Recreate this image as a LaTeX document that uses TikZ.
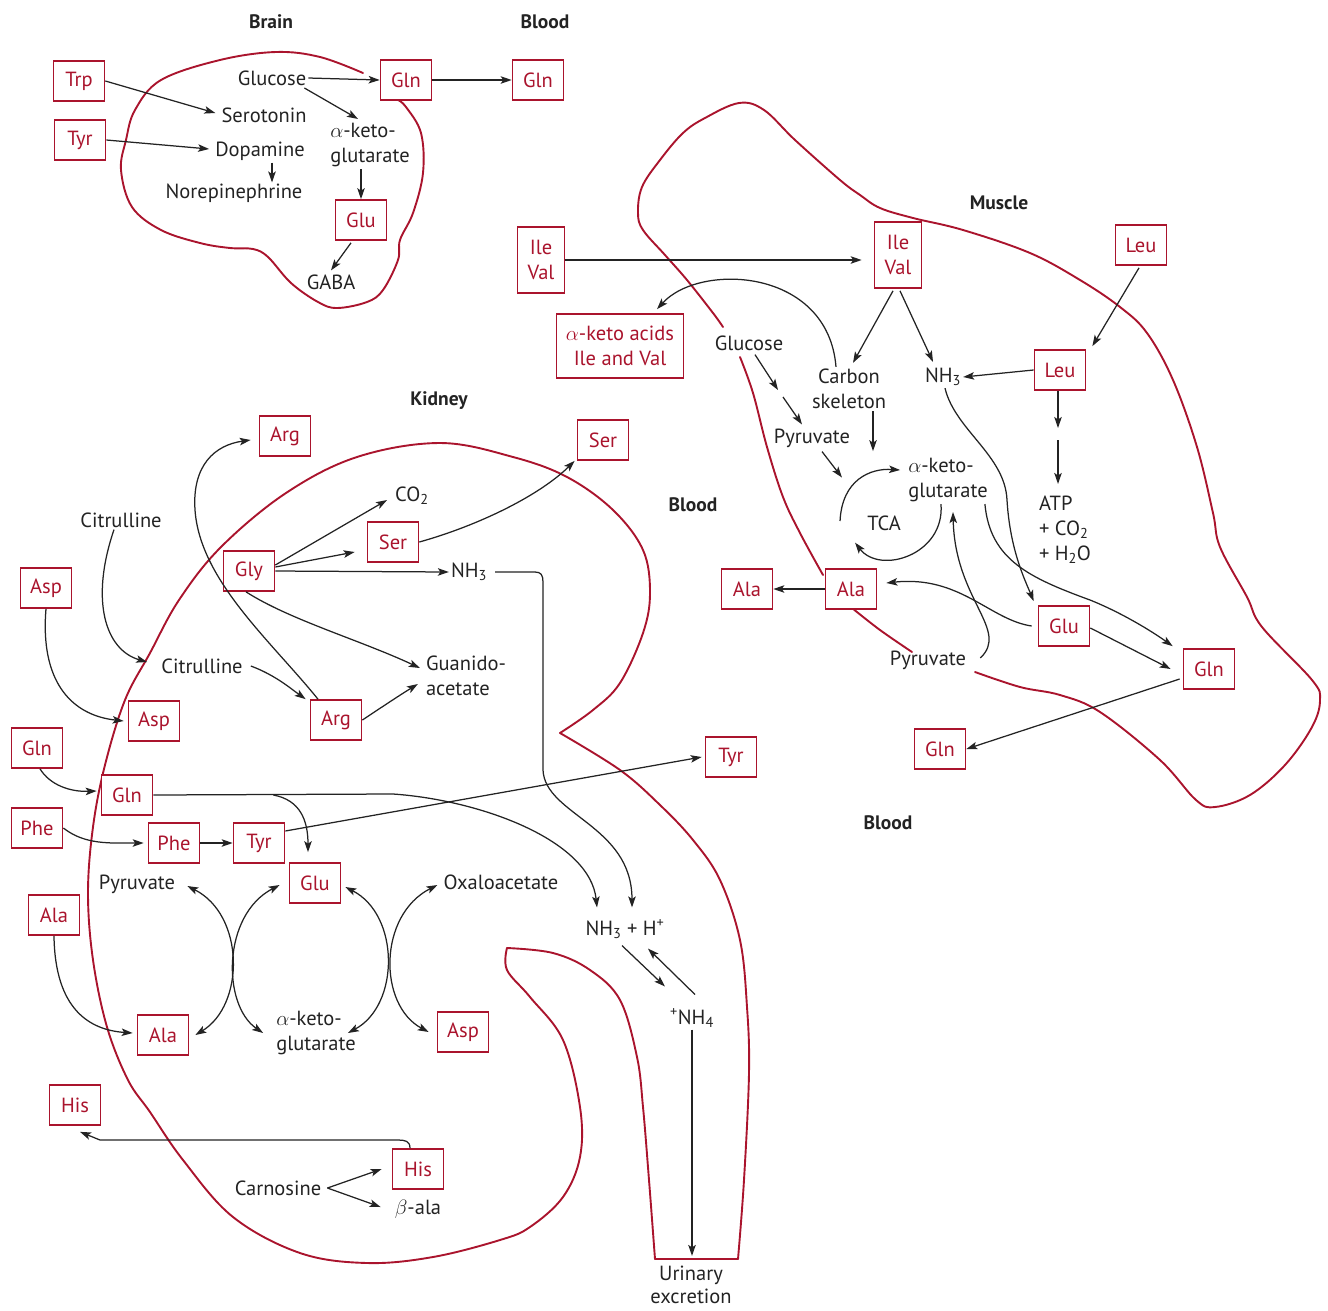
\documentclass[tikz,border=0pt]{standalone}
\usepackage{fontspec}
\setmainfont{PT Sans}
\usetikzlibrary{arrows.meta,calc}
\definecolor{dred}{RGB}{170,20,45}
\definecolor{ink}{RGB}{35,35,35}
\begin{document}
\begin{tikzpicture}[x=1pt,y=-1pt,
  >={Stealth[length=11pt,width=7.5pt,inset=2.5pt]},
  every node/.style={font=\fontsize{20.5}{25}\selectfont, text=ink, inner sep=2pt},
  box/.style={draw=dred, fill=white, line width=1.7pt, text=dred, minimum width=51pt, minimum height=40pt, inner sep=3pt},
  lbl/.style={font=\fontsize{19.5}{24}\selectfont\bfseries},
  outl/.style={draw=dred, line width=1.9pt, line join=round, line cap=round},
  con/.style={draw=ink, line width=1.25pt},
  arr/.style={con, ->},
  darr/.style={con, <->}
]
\useasboundingbox (0,0) rectangle (1328,1310);

% ---------- outlines ----------
% brain
\draw[outl] plot[smooth, tension=0.6] coordinates {(363,73) (320,57) (276,52) (220,60) (161,80) (135,110) (126,140) (121,170) (132,207) (161,230) (200,243) (230,248) (253,249) (268,257) (291,283) (318,302) (337,308) (367,302) (383,290) (398,260) (400,240) (413,213) (423,173) (421,133) (406,107) (398,100)};
% muscle
\draw[outl] plot[smooth, tension=0.6] coordinates {(740,357) (753,393) (767,447) (783,497) (800,533) (823,575)};
\draw[outl] plot[smooth, tension=0.6] coordinates {(852,608) (880,630) (912,652)};
\draw[outl] plot[smooth, tension=0.6] coordinates {(975,672) (1020,687) (1060,695) (1100,712) (1160,760) (1196,800) (1215,807) (1250,795) (1285,765) (1312,727) (1320,700) (1312,680) (1262,627) (1247,597) (1220,547) (1213,513) (1197,447) (1173,380) (1147,333) (1120,307) (1080,280) (1030,253) (963,230) (913,218) (880,208) (860,195) (840,180) (795,140) (764,110) (739,103) (705,118) (683,133) (660,160) (642,187) (638,213) (643,230) (665,255) (687,280) (713,313) (723,327)};
% kidney
\draw[outl] plot[smooth, tension=0.6] coordinates {(560,733) (593,710) (620,683) (643,633) (650,593) (643,550) (613,510) (567,477) (513,457) (440,443) (357,457) (286,493) (221,547) (179,600) (150,653) (125,700) (105,765) (93,827) (88,893) (93,960) (107,1027) (128,1080) (150,1112) (183,1160) (233,1217) (300,1253) (367,1263) (433,1257) (500,1240) (530,1227) (563,1197) (580,1157) (580,1107) (563,1040) (530,997) (507,970) (507,948)};
\draw[outl] plot[smooth, tension=0.6] coordinates {(507,948) (553,953) (590,970) (620,1000) (637,1057) (643,1107) (649,1180) (655,1259)};
\draw[outl] (655,1259) -- (738,1259);
\draw[outl] plot[smooth, tension=0.6] coordinates {(738,1259) (744,1180) (749,1073) (747,1007) (740,940) (720,880) (693,840) (660,805) (620,770) (560,733)};

% ---------- brain ----------
\node[lbl] (tBrain) at (271,22) {Brain};
\node[lbl] (tBlood1) at (545,22) {Blood};
\node[box] (trp) at (79,81) {Trp};
\node[box] (tyrA) at (80,140) {Tyr};
\node (glcA) at (272,78) {Glucose};
\node[box] (glnA) at (406,80) {Gln};
\node[box] (glnA2) at (538,80) {Gln};
\node (sero) at (264,115) {Serotonin};
\node (dopa) at (260,151) {Dopamine};
\node (norep) at (234,193) {Norepinephrine};
\node[align=left] (akgA) at (370,145) {$\alpha$-keto-\\glutarate};
\node[box] (gluA) at (361,220) {Glu};
\node (gaba) at (331,282) {GABA};

% ---------- muscle ----------
\node[lbl] (tMuscle) at (999,203) {Muscle};
\node[box, align=center, minimum width=47pt, minimum height=66pt] (ivA) at (541,260) {Ile\\Val};
\node[box, align=center, minimum width=47pt, minimum height=66pt] (ivM) at (898,255) {Ile\\Val};
\node[box] (leuA) at (1141,245) {Leu};
\node[box] (leuM) at (1060,370) {Leu};
\node[box, align=center, minimum width=127pt, minimum height=64pt] (kac) at (620,346) {$\alpha$-keto acids\\Ile and Val};
\node (glcM) at (749,343) {Glucose};
\node[align=center] (carb) at (849,389) {Carbon\\skeleton};
\node (nh3M) at (943,377) {NH\textsubscript{3}};
\node (pyrM) at (812,438) {Pyruvate};
\node[align=left] (akgM) at (948,480) {$\alpha$-keto-\\glutarate};
\node (tca) at (884,523) {TCA};
\node[align=left] (atp) at (1065,530) {ATP\\+ CO\textsubscript{2}\\+ H\textsubscript{2}O};
\node[box] (alaM) at (851,589) {Ala};
\node[box] (alaMB) at (747,589) {Ala};
\node[box] (gluM) at (1064,626) {Glu};
\node[box] (glnM) at (1209,669) {Gln};
\node[box] (glnMB) at (940,749) {Gln};
\node (pyrM2) at (928,660) {Pyruvate};
\node[lbl] (tBlood3) at (888,823) {Blood};

% ---------- kidney ----------
\node[lbl] (tKidney) at (439,401) {Kidney};
\node[lbl] (tBlood2) at (693,505) {Blood};
\node[box] (argB) at (285,436) {Arg};
\node[box] (serB) at (603,440) {Ser};
\node (citB) at (121,520) {Citrulline};
\node[box] (aspB) at (46,588) {Asp};
\node[box] (gly) at (249,571) {Gly};
\node (co2) at (412,496) {CO\textsubscript{2}};
\node[box] (serK) at (393,542) {Ser};
\node (nh3K) at (469,572) {NH\textsubscript{3}};
\node[align=left] (guan) at (466,676) {Guanido-\\acetate};
\node (citK) at (202,666) {Citrulline};
\node[box] (aspK) at (154,721) {Asp};
\node[box] (argK) at (336,720) {Arg};
\node[box] (glnB) at (37,748) {Gln};
\node[box] (glnK) at (127,795) {Gln};
\node[box] (pheB) at (37,828) {Phe};
\node[box] (pheK) at (174,843) {Phe};
\node[box] (tyrK) at (259,843) {Tyr};
\node[box] (tyrB) at (731,757) {Tyr};
\node[box] (gluK) at (315,883) {Glu};
\node (pyrK) at (137,884) {Pyruvate};
\node (oaa) at (501,882) {Oxaloacetate};
\node[box] (alaB) at (54,915) {Ala};
\node[box] (alaK) at (163,1035) {Ala};
\node[align=left] (akgK) at (316,1033) {$\alpha$-keto-\\glutarate};
\node[box] (aspK2) at (463,1032) {Asp};
\node (nh3h) at (625,929) {NH\textsubscript{3} + H\textsuperscript{+}};
\node (nh4) at (692,1018) {\textsuperscript{+}NH\textsubscript{4}};
\node[align=center, font=\fontsize{20.5}{23}\selectfont] (urin) at (691,1285) {Urinary\\excretion};
\node[box] (hisB) at (75,1105) {His};
\node[box] (hisK) at (418,1169) {His};
\node (carn) at (278,1188) {Carnosine};
\node (bala) at (418,1209) {$\beta$-ala};

% ---------- brain connectors ----------
\draw[arr] (trp.east) -- ($(sero.west)+(-4,-2)$);
\draw[arr] (tyrA.east) -- ($(dopa.west)+(-4,-2)$);
\draw[arr] (glcA.east) -- (glnA.west);
\draw[arr] ($(glcA.east)+(-4,10)$) -- ($(akgA.north)+(-12,-2)$);
\draw[arr] ($(dopa.south)+(12,0)$) -- ($(norep.north)+(38,1)$);
\draw[arr] (akgA.south -| gluA) -- (gluA.north);
\draw[arr] ($(gluA.south)+(-10,2)$) -- ($(gaba.north)+(0,-2)$);
\draw[arr] (glnA.east) -- (glnA2.west);

% ---------- muscle connectors ----------
\draw[arr, shorten >=12pt] (ivA.east) -- (ivA.east -| ivM.west);
\draw[arr] ($(carb.north)+(-13,0)$) .. controls (828,268) and (700,262) .. ($(kac.north)+(37,-4)$);
\draw[arr] ($(ivM.south)+(-5,2)$) -- ($(carb.north)+(4,-4)$);
\draw[arr] ($(ivM.south)+(2,2)$) -- ($(nh3M.north)+(-10,-4)$);
\draw[arr] ($(leuA.south)+(-2,2)$) -- ($(leuM.north east)+(6,-3)$);
\draw[arr] (leuM.west) -- (nh3M.east);
\coordinate (leuMid) at (1058,428);
\draw[arr] (leuM.south -| leuMid) -- (leuMid);
\draw[arr] ($(leuMid)+(0,12)$) -- ($(atp.north -| leuMid)+(0,-10)$);
\coordinate (gpM) at (778,390);
\draw[arr] ($(glcM.south)+(6,2)$) -- (gpM);
\draw[arr] ($(gpM)+(5,7)$) -- ($(pyrM.north)+(-10,-2)$);
\draw[arr] ($(carb.south)+(24,0)$) -- ++(0,40);
\draw[arr] ($(pyrM.south)+(10,2)$) -- ++(20,26);
\draw[arr] ($(tca.west)+(-25,-2)$) .. controls (842,480) and (870,468) .. ($(akgM.west)+(-6,-10)$);
\draw[arr] ($(akgM.south)+(-7,0)$) .. controls (945,555) and (880,575) .. ($(tca.south west)+(-10,10)$);
\draw[arr] ($(nh3M.south)+(2,0)$) .. controls (955,430) and (1005,455) .. (1007,500) .. controls (1010,550) and (1025,580) .. ($(gluM.north west)+(-4,-4)$);
\draw[arr] ($(akgM.south east)+(-5,0)$) .. controls (990,560) and (1030,578) .. (1090,600) .. controls (1120,612) and (1150,630) .. ($(glnM.north west)+(-10,-2)$);
\draw[arr] ($(gluM.east)+(0,2)$) -- ($(glnM.west)+(-12,0)$);
\draw[arr] ($(glnM.west)+(-3,10)$) -- (glnMB.east);
\draw[arr] ($(gluM.west)+(-6,0)$) .. controls (990,620) and (960,575) .. ($(alaM.east)+(9,-6)$);
\draw[arr] ($(pyrM2.east)+(12,-2)$) .. controls (1010,630) and (955,600) .. ($(akgM.south)+(5,8)$);
\draw[arr] (alaM.west) -- (alaMB.east);

% ---------- kidney connectors ----------
\draw[arr] ($(argK.north)+(-18,0)$) .. controls (270,640) and (200,580) .. (195,510) .. controls (192,465) and (215,445) .. ($(argB.west)+(-8,4)$);
\draw[arr] ($(citB.south)+(-7,0)$) .. controls (90,600) and (105,650) .. ($(citK.west)+(-12,-4)$);
\draw[arr] (aspB.south) .. controls (40,680) and (70,715) .. ($(aspK.west)+(-4,0)$);
\draw[arr] ($(citK.east)+(6,0)$) .. controls (275,675) and (290,688) .. ($(argK.north west)+(-4,0)$);
\draw[arr] (argK.east) .. controls (385,705) and (400,695) .. ($(guan.west)+(-6,8)$);
\draw[arr] ($(gly.south)+(-3,0)$) .. controls (290,620) and (360,640) .. ($(guan.west)+(-4,-8)$);
\draw[arr] ($(gly.east)+(0,-6)$) -- ($(co2.west)+(-6,4)$);
\draw[arr] ($(gly.east)+(0,-4)$) -- ($(serK.west)+(-12,10)$);
\draw[arr] (gly.east) -- (nh3K.west);
\draw[arr] (serK.east) .. controls (480,525) and (540,495) .. ($(serB.south west)+(-2,0)$);
\draw[arr] ($(nh3K.east)+(6,0)$) -- (535,572) .. controls (541,572) and (543,575) .. (543,582) -- (543,770) .. controls (545,815) and (632,825) .. ($(nh3h.north)+(7,-10)$);
\draw[arr] (glnK.east) -- (393,794) .. controls (480,800) and (590,840) .. ($(nh3h.north)+(-28,-10)$);
\draw[arr] ($(glnK.east)+(120,0)$) .. controls (300,800) and (308,820) .. ($(gluK.north)+(-7,-10)$);
\draw[arr] ($(tyrK.east)+(0,-12)$) -- ($(tyrB.west)+(-3,0)$);
\draw[arr] (pheK.east) -- (tyrK.west);
\draw[arr] (pheB.east) .. controls (85,845) and (110,843) .. ($(pheK.west)+(-4,0)$);
\draw[arr] ($(glnB.south)+(3,0)$) .. controls (50,785) and (70,792) .. ($(glnK.west)+(-4,-4)$);
\draw[arr] (alaB.south) .. controls (55,1010) and (90,1030) .. ($(alaK.west)+(-4,-2)$);
\draw[darr] ($(pyrK.east)+(10,2)$) .. controls (245,915) and (245,1005) .. ($(alaK.east)+(6,0)$);
\draw[darr] ($(gluK.west)+(-9,2)$) .. controls (222,915) and (222,1005) .. ($(akgK.west)+(-11,0)$);
\draw[darr] ($(gluK.east)+(4,4)$) .. controls (400,915) and (400,1005) .. ($(akgK.east)+(-10,0)$);
\draw[darr] ($(oaa.west)+(-4,3)$) .. controls (378,915) and (378,1005) .. ($(aspK2.west)+(-8,0)$);
\draw[arr] ($(nh3h.south)+(-3,5)$) -- ($(nh4.north)+(-27,-20)$);
\draw[arr] ($(nh4.north)+(3,-12)$) -- ($(nh3h.south)+(23,8)$);
\draw[arr, shorten >=8pt] (nh4.south) -- (nh4.south |- urin.north);
\draw[arr] ($(hisK.north)+(-8,0)$) .. controls (410,1141) and (405,1140) .. (398,1140) -- (100,1140) -- ($(hisB.south)+(5,6)$);
\draw[arr] ($(carn.east)+(4,0)$) -- ($(hisK.west)+(-10,0)$);
\draw[arr] ($(carn.east)+(4,0)$) -- ($(bala.west)+(-12,-2)$);
\end{tikzpicture}
\end{document}
